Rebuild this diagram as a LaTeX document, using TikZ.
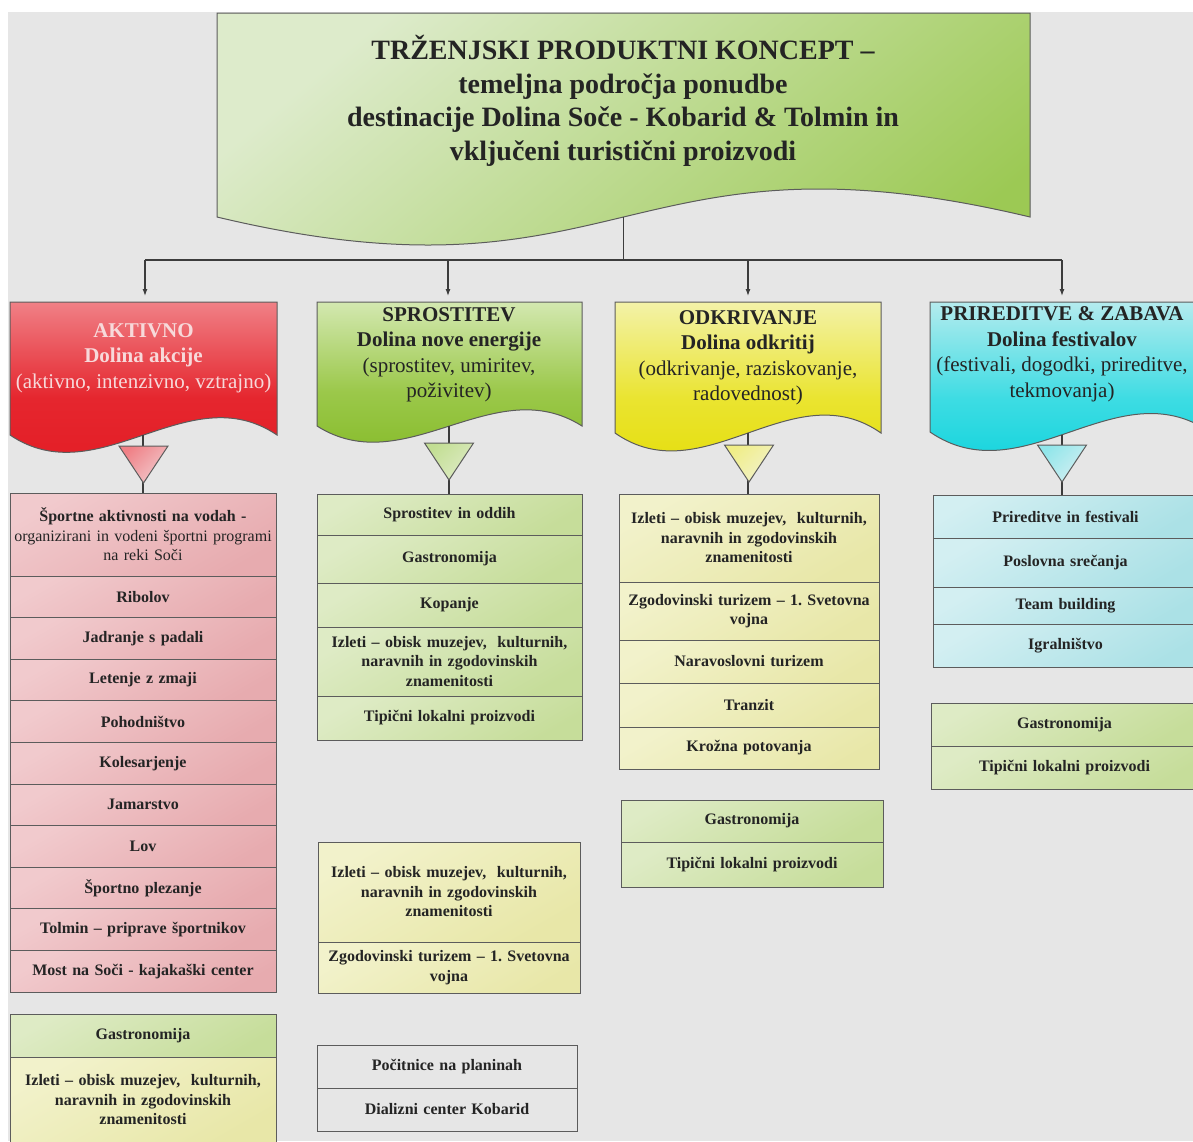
\documentclass[tikz,border=0pt]{standalone}
\usepackage{fontspec}
\setmainfont{Liberation Serif}
\usetikzlibrary{arrows.meta,positioning,calc}
\frenchspacing
\definecolor{canvas}{HTML}{E6E6E6}
\definecolor{edge}{HTML}{5C5C5C}
\definecolor{wire}{HTML}{3C3C3C}
\definecolor{ink}{HTML}{242424}
\definecolor{toplight}{HTML}{DDEBCB}
\definecolor{topdark}{HTML}{9CC954}
\definecolor{aktlight}{HTML}{F08086}
\definecolor{aktmid}{HTML}{E5262E}
\definecolor{aktdark}{HTML}{E31A22}
\definecolor{akttext}{HTML}{F7D9DA}
\definecolor{sprlight}{HTML}{D3E8B0}
\definecolor{sprmid}{HTML}{9BC84A}
\definecolor{sprdark}{HTML}{7FB71F}
\definecolor{odklight}{HTML}{F3F2A8}
\definecolor{odkmid}{HTML}{EAE430}
\definecolor{odkdark}{HTML}{E3DC00}
\definecolor{prilight}{HTML}{B4EBEE}
\definecolor{primid}{HTML}{3DDCE3}
\definecolor{pridark}{HTML}{00D0DA}
\definecolor{pinkA}{HTML}{F1CACD}
\definecolor{pinkB}{HTML}{E7ABAF}
\definecolor{greenA}{HTML}{DEEBC5}
\definecolor{greenB}{HTML}{C6DD9A}
\definecolor{yellowA}{HTML}{F2F2CB}
\definecolor{yellowB}{HTML}{E8E7A8}
\definecolor{cyanA}{HTML}{D3EFF2}
\definecolor{cyanB}{HTML}{ABE1E6}
\newcommand\titlefont{\fontsize{28}{33.5}\selectfont\bfseries}
\newcommand\catfont{\fontsize{21}{25.5}\selectfont}
\newcommand\itemfont{\fontsize{16}{19.5}\selectfont\bfseries}

\begin{document}
\begin{tikzpicture}[x=1pt, y=-1pt, >={Latex[length=7pt,width=5pt]},
  conn/.style={draw=wire, line width=1.2pt},
  wave/.style n args={4}{insert path={(#1) -- (#1 -| #2) -- (#2)
    .. controls ($(#1 |- #2)!#4!(#2)+(0,-#3)$) and ($(#2)!#4!(#1 |- #2)+(0,#3)$) .. (#1 |- #2) -- cycle}},
  head/.style={draw=edge, line width=1pt, shading angle=45},
  cat/.style={align=center, font=\catfont, text=ink, inner sep=0pt},
  row/.style={draw=edge, line width=1pt, text width=#1, inner xsep=0pt, inner ysep=0pt,
    outer sep=0pt, align=center, font=\itemfont, text=ink},
  pinkrow/.style={top color=pinkA, bottom color=pinkB, shading angle=30},
  greenrow/.style={top color=greenA, bottom color=greenB, shading angle=30},
  yellowrow/.style={top color=yellowA, bottom color=yellowB, shading angle=30},
  cyanrow/.style={top color=cyanA, bottom color=cyanB, shading angle=30},
  dtri/.pic={\draw[pic actions] (-24.5,0) -- (24.5,0) -- (0,37) -- cycle;}]
\useasboundingbox (0,0) rectangle (1193,1141);
\fill[white] (0,0) rectangle (1193,1141);
\fill[canvas] (8,12) rectangle (1193,1141);

% main concept
\coordinate (topNW) at (217,13);
\coordinate (topSE) at (1030,217);
\draw[head, top color=toplight, bottom color=topdark, shading angle=40] [wave={topNW}{topSE}{97}{0.5}];
\node[align=center, font=\titlefont, text=ink] (title) at (623,101)
  {TRŽENJSKI PRODUKTNI KONCEPT –\\temeljna področja ponudbe\\
   destinacije Dolina Soče - Kobarid \& Tolmin in\\vključeni turistični proizvodi};

% four product areas
\coordinate (aktNW) at (10,302);   \coordinate (aktSE) at (277,435);
\coordinate (sprNW) at (317,302);  \coordinate (sprSE) at (582,426);
\coordinate (odkNW) at (615,302);  \coordinate (odkSE) at (881,433);
\coordinate (priNW) at (930,302);  \coordinate (priSE) at (1210,432);
\draw[head, top color=aktlight, bottom color=aktdark, middle color=aktmid] [wave={aktNW}{aktSE}{60}{0.667}];
\draw[head, top color=sprlight, bottom color=sprdark, middle color=sprmid] [wave={sprNW}{sprSE}{56}{0.667}];
\draw[head, top color=odklight, bottom color=odkdark, middle color=odkmid] [wave={odkNW}{odkSE}{62}{0.667}];
\draw[head, top color=prilight, bottom color=pridark, middle color=primid] [wave={priNW}{priSE}{64}{0.667}];

\node[cat, text=akttext] (akt) at (143.5,358)
  {\textbf{AKTIVNO}\\\textbf{Dolina akcije}\\(aktivno, intenzivno, vztrajno)};
\node[cat] (spr) at (449,355)
  {\textbf{SPROSTITEV}\\\textbf{Dolina nove energije}\\(sprostitev, umiritev,\\poživitev)};
\node[cat] (odk) at (748,358)
  {\textbf{ODKRIVANJE}\\\textbf{Dolina odkritij}\\(odkrivanje, raziskovanje,\\radovednost)};
\node[cat] (pri) at (1062,354)
  {\textbf{PRIREDITVE \& ZABAVA}\\\textbf{Dolina festivalov}\\(festivali, dogodki, prireditve,\\tekmovanja)};

% tree lines
\coordinate (topS) at (623.5,217);
\coordinate (bus) at (623.5,260);
\coordinate (aktN) at (145,302);
\coordinate (sprN) at (448,302);
\coordinate (odkN) at (748,302);
\coordinate (priN) at (1062,302);
\draw[conn] (topS) -- (bus);
\draw[conn] (aktN |- bus) -- (priN |- bus);
\draw[conn, ->, shorten >=6pt] (aktN |- bus) -- (aktN);
\draw[conn, ->, shorten >=6pt] (sprN |- bus) -- (sprN);
\draw[conn, ->, shorten >=6pt] (odkN |- bus) -- (odkN);
\draw[conn, ->, shorten >=6pt] (priN |- bus) -- (priN);

% AKTIVNO list
\node[row=266pt, pinkrow, minimum height=83pt, anchor=north west] (akt1) at (10,493)
  {Športne aktivnosti na vodah -\\{\mdseries organizirani in vodeni športni programi}\\{\mdseries na reki Soči}};
\node[row=266pt, pinkrow, minimum height=41.6pt, below=0pt of akt1] (akt2) {Ribolov};
\node[row=266pt, pinkrow, minimum height=41.6pt, below=0pt of akt2] (akt3) {Jadranje s padali};
\node[row=266pt, pinkrow, minimum height=41.6pt, below=0pt of akt3] (akt4) {Letenje z zmaji};
\node[row=266pt, pinkrow, minimum height=41.6pt, below=0pt of akt4] (akt5) {Pohodništvo};
\node[row=266pt, pinkrow, minimum height=41.6pt, below=0pt of akt5] (akt6) {Kolesarjenje};
\node[row=266pt, pinkrow, minimum height=41.6pt, below=0pt of akt6] (akt7) {Jamarstvo};
\node[row=266pt, pinkrow, minimum height=41.6pt, below=0pt of akt7] (akt8) {Lov};
\node[row=266pt, pinkrow, minimum height=41.6pt, below=0pt of akt8] (akt9) {Športno plezanje};
\node[row=266pt, pinkrow, minimum height=41.6pt, below=0pt of akt9] (akt10) {Tolmin – priprave športnikov};
\node[row=266pt, pinkrow, minimum height=41.6pt, below=0pt of akt10] (akt11) {Most na Soči - kajakaški center};
\node[row=266pt, greenrow, minimum height=43pt, anchor=north west] (akt12) at (10,1014) {Gastronomija};
\node[row=266pt, yellowrow, minimum height=86pt, below=0pt of akt12] (akt13)
  {Izleti – obisk muzejev,~ kulturnih,\\naravnih in zgodovinskih\\znamenitosti};

% SPROSTITEV list
\node[row=265pt, greenrow, minimum height=41pt, anchor=north west] (spr1) at (317,494) {Sprostitev in oddih};
\node[row=265pt, greenrow, minimum height=48pt, below=0pt of spr1] (spr2) {Gastronomija};
\node[row=265pt, greenrow, minimum height=44pt, below=0pt of spr2] (spr3) {Kopanje};
\node[row=265pt, greenrow, minimum height=69pt, below=0pt of spr3] (spr4)
  {Izleti – obisk muzejev,~ kulturnih,\\naravnih in zgodovinskih\\znamenitosti};
\node[row=265pt, greenrow, minimum height=44pt, below=0pt of spr4] (spr5) {Tipični lokalni proizvodi};
\node[row=262pt, yellowrow, minimum height=100pt, anchor=north west] (spr6) at (318,842)
  {Izleti – obisk muzejev,~ kulturnih,\\naravnih in zgodovinskih\\znamenitosti};
\node[row=262pt, yellowrow, minimum height=51pt, below=0pt of spr6] (spr7)
  {Zgodovinski turizem – 1. Svetovna\\vojna};
\node[row=260pt, minimum height=43pt, anchor=north west] (spr8) at (317,1045) {Počitnice na planinah};
\node[row=260pt, minimum height=43pt, below=0pt of spr8] (spr9) {Dializni center Kobarid};

% ODKRIVANJE list
\node[row=260pt, yellowrow, minimum height=88pt, anchor=north west] (odk1) at (619,494)
  {Izleti – obisk muzejev,~ kulturnih,\\naravnih in zgodovinskih\\znamenitosti};
\node[row=260pt, yellowrow, minimum height=58pt, below=0pt of odk1] (odk2)
  {Zgodovinski turizem – 1. Svetovna\\vojna};
\node[row=260pt, yellowrow, minimum height=43pt, below=0pt of odk2] (odk3) {Naravoslovni turizem};
\node[row=260pt, yellowrow, minimum height=44pt, below=0pt of odk3] (odk4) {Tranzit};
\node[row=260pt, yellowrow, minimum height=42pt, below=0pt of odk4] (odk5) {Krožna potovanja};
\node[row=262pt, greenrow, minimum height=42pt, anchor=north west] (odk6) at (621,800) {Gastronomija};
\node[row=262pt, greenrow, minimum height=45pt, below=0pt of odk6] (odk7) {Tipični lokalni proizvodi};

% PRIREDITVE list
\node[row=265pt, cyanrow, minimum height=43pt, anchor=north west] (pri1) at (933,495) {Prireditve in festivali};
\node[row=265pt, cyanrow, minimum height=49pt, below=0pt of pri1] (pri2) {Poslovna srečanja};
\node[row=265pt, cyanrow, minimum height=37pt, below=0pt of pri2] (pri3) {Team building};
\node[row=265pt, cyanrow, minimum height=43pt, below=0pt of pri3] (pri4) {Igralništvo};
\node[row=267pt, greenrow, minimum height=43pt, anchor=north west] (pri5) at (931,703) {Gastronomija};
\node[row=267pt, greenrow, minimum height=43pt, below=0pt of pri5] (pri6) {Tipični lokalni proizvodi};

% links from areas to lists
\coordinate (aktS) at (143,435);
\coordinate (sprS) at (449,426);
\coordinate (odkS) at (748,433);
\coordinate (priS) at (1062,435);
\draw[conn] (aktS) -- (aktS |- akt1.north);
\draw[conn] (sprS) -- (sprS |- spr1.north);
\draw[conn] (odkS) -- (odkS |- odk1.north);
\draw[conn] (priS) -- (priS |- pri1.north);
\pic[draw=edge, line width=1pt, top color=aktlight, bottom color=pinkA, shading angle=45] at (143.5,446) {dtri};
\pic[draw=edge, line width=1pt, top color=sprlight!80!sprdark, bottom color=greenA, shading angle=45] at (449,443) {dtri};
\pic[draw=edge, line width=1pt, top color=odklight!80!odkdark, bottom color=yellowA, shading angle=45] at (749,445) {dtri};
\pic[draw=edge, line width=1pt, top color=prilight!80!pridark, bottom color=cyanA, shading angle=45] at (1062,445) {dtri};
\end{tikzpicture}
\end{document}
